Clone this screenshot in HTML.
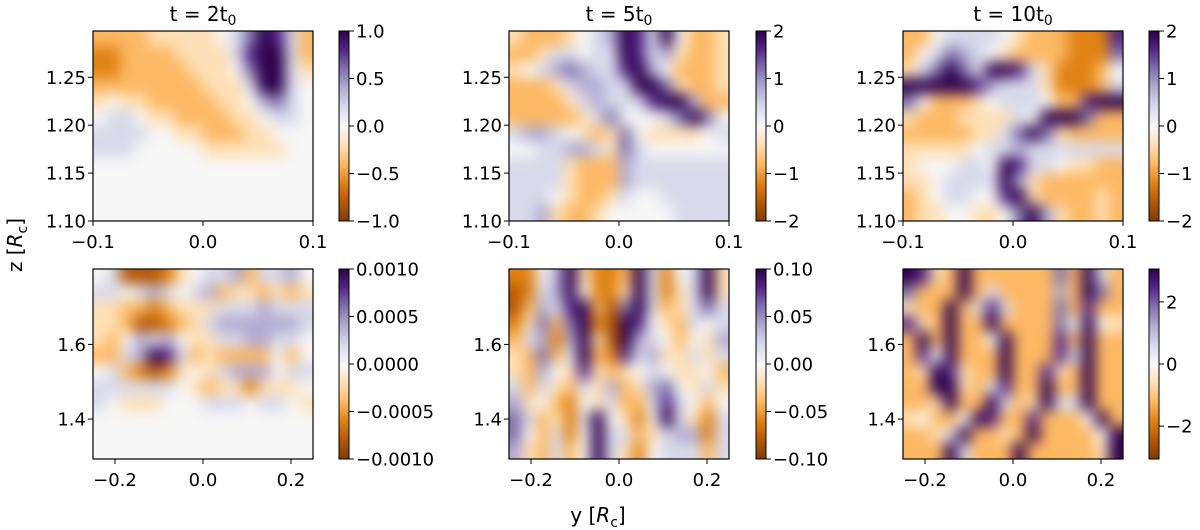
<!DOCTYPE html>
<html><head><meta charset="utf-8">
<style>
html,body{margin:0;padding:0;background:#fff;}
svg{display:block;font-family:"DejaVu Sans","Liberation Sans",sans-serif;}
.hm{filter:blur(7px);}
</style></head>
<body>
<svg id="fig" width="1200" height="530" viewBox="0 0 1200 530" xmlns="http://www.w3.org/2000/svg">
<defs>
<linearGradient id="cmap" x1="0" y1="1" x2="0" y2="0">
<stop offset="0" stop-color="#7f3b08"/><stop offset="0.1" stop-color="#b35806"/><stop offset="0.2" stop-color="#e08214"/><stop offset="0.3" stop-color="#fdb863"/><stop offset="0.4" stop-color="#fee0b6"/><stop offset="0.5" stop-color="#f7f7f7"/><stop offset="0.6" stop-color="#d8daeb"/><stop offset="0.7" stop-color="#b2abd2"/><stop offset="0.8" stop-color="#8073ac"/><stop offset="0.9" stop-color="#542788"/><stop offset="1" stop-color="#2d004b"/>
</linearGradient>
</defs>
<text transform="translate(22,245) rotate(-90)" text-anchor="middle" font-size="20">z [<tspan font-style="italic">R</tspan><tspan font-size="14" dy="5">c</tspan><tspan dy="-5">]</tspan></text>
<text x="598" y="522" text-anchor="middle" font-size="20">y [<tspan font-style="italic">R</tspan><tspan font-size="14" dy="5">c</tspan><tspan dy="-5">]</tspan></text>
</svg>
<script>
// Colormap (PuOr_r) anchor colours for levels -5..5
const cmapColors = ["#7f3b08","#b35806","#e08214","#fdb863","#fee0b6","#f7f7f7","#d8daeb","#b2abd2","#8073ac","#542788","#2d004b"];

const gridTop2 = [
[-2,-2,-2,-2,-1,-1,-1,-1,-1,0,1,3,5,4,1,-2],
[-3,-3,-2,-2,-2,-2,-1,-1,-1,-1,1,4,5,5,1,-2],
[-3,-3,-2,-2,-2,-2,-2,-1,-1,-1,0,3,5,5,1,-1],
[-2,-2,-2,-2,-2,-2,-2,-2,-1,-1,-1,1,5,5,1,0],
[-1,0,-1,-1,-2,-2,-2,-2,-2,-1,-1,0,2,3,1,0],
[0,1,1,0,-1,-1,-2,-2,-2,-2,-1,-1,0,1,1,0],
[1,1,1,1,0,0,-1,-1,-2,-2,-2,-1,-1,0,0,0],
[1,1,1,0,0,0,0,0,-1,-1,-1,-1,-1,-1,0,0],
[0,0,0,0,0,0,0,0,0,0,0,0,0,0,0,0],
[0,0,0,0,0,0,0,0,0,0,0,0,0,0,0,0],
[0,0,0,0,0,0,0,0,0,0,0,0,0,0,0,0],
[0,0,0,0,0,0,0,0,0,0,0,0,0,0,0,0]];
const gridTop5 = [
[-1,-2,-2,-2,-1,0,1,2,5,4,1,5,0,-2,-2,-1],
[-2,-2,-1,1,1,0,1,1,5,4,1,2,-1,-2,-2,-1],
[-1,0,1,2,3,2,1,1,4,5,2,0,-2,-2,-2,-1],
[-2,-2,-2,-1,1,2,2,1,1,5,5,3,-1,-2,-2,-1],
[-2,-2,-2,-2,-1,1,2,1,1,1,4,5,5,2,-2,-2],
[-2,-2,-2,-2,-2,-1,1,3,0,0,0,1,3,5,3,0],
[1,2,2,1,0,-1,-2,-1,3,0,-1,-1,-1,-1,0,1],
[0,0,1,1,2,2,1,-1,3,1,0,0,0,0,0,0],
[1,1,1,1,-1,-2,-2,-2,2,1,1,1,1,1,1,1],
[1,1,1,1,-1,-2,-2,-2,2,1,1,1,1,1,1,1],
[1,1,1,0,-1,-2,-2,-1,1,0,0,1,1,1,1,1],
[1,1,2,-1,-2,-2,-1,0,0,0,0,0,1,1,1,1]];
const gridTop10 = [
[-2,-2,0,1,1,1,1,0,-1,-2,-2,-2,-3,-3,-3,4],
[-2,0,1,3,2,1,0,-1,-2,-2,-2,-2,-3,-3,-3,3],
[-1,1,3,5,3,1,5,5,4,1,-1,-3,-3,-3,-2,0],
[5,5,5,5,5,4,2,1,1,1,-1,-3,-3,-3,-2,1],
[3,0,-2,-2,-2,-1,0,1,1,1,0,-2,-2,4,5,5],
[-1,-2,-2,-2,-1,-1,-1,-1,1,0,5,5,5,3,-2,-2],
[-2,-2,-2,-2,-2,-1,-1,1,3,5,3,-1,-2,-2,-2,-2],
[-1,-1,-1,-1,-1,0,1,1,2,1,1,1,1,1,1,1],
[-1,0,0,0,1,1,0,5,4,1,1,0,-1,-1,-2,-2],
[-1,-1,0,1,1,1,1,5,2,-1,-2,-2,-2,-2,-2,-2],
[-2,-1,0,1,1,0,0,4,5,-1,-2,-2,-2,-2,-1,-2],
[-2,-1,-1,0,0,-1,-1,0,3,5,2,-1,-2,-2,-1,-2]];
const gridBot2 = [
[0,1,-4,-4,-4,-3,-1,0,1,1,2,-2,1,1,2,0],
[1,1,0,1,2,1,0,1,2,-2,-1,-1,-2,-1,-2,-1],
[-1,-1,-2,-2,-3,-2,-1,-1,-1,1,1,1,2,1,1,1],
[-1,-1,-2,-4,-4,-3,-2,-1,1,2,2,2,2,2,2,1],
[-1,-2,0,2,1,2,0,-1,-1,1,1,2,2,1,1,0],
[-2,-2,1,2,5,4,1,-2,-1,-2,-2,-2,-2,0,-2,0],
[0,1,-2,-3,-4,-3,-1,0,-1,1,2,2,2,0,1,1],
[1,1,1,1,1,1,0,-1,-2,-1,-1,-3,-1,-1,-1,0],
[1,0,-1,-1,-1,0,0,0,1,1,1,0,1,1,0,-1],
[0,0,0,0,0,0,0,0,0,0,0,0,0,0,0,0],
[0,0,0,0,0,0,0,0,0,0,0,0,0,0,0,0],
[0,0,0,0,0,0,0,0,0,0,0,0,0,0,0,0]];
const gridBot5 = [
[-3,-3,0,2,5,-1,-3,-3,-2,5,1,-3,0,1,5,-1],
[-4,-3,1,2,5,0,-3,-3,-1,5,1,-3,-1,1,5,-1],
[-4,-2,2,1,4,5,-2,-4,3,5,1,-2,-1,1,3,1],
[-3,-1,3,-2,3,5,-3,-4,5,4,0,-1,-2,1,0,1],
[-2,1,2,-3,2,5,-1,-4,5,2,1,0,-2,0,-1,2],
[-1,-2,3,-2,1,5,-2,-3,4,1,2,-1,-1,1,-1,1],
[-1,-2,2,0,-1,4,-1,-2,-1,0,1,0,-1,-1,0,-2],
[1,-2,1,-1,-2,1,-1,2,-2,-1,2,3,0,-1,1,-1],
[2,-1,0,-2,-3,0,-1,1,-2,-2,1,4,1,0,-2,0],
[3,1,-2,-1,-3,1,5,0,-1,-3,0,5,1,-1,-3,1],
[3,0,-2,1,-3,0,5,1,1,-2,-1,1,2,2,-3,1],
[2,-1,-2,1,-2,0,5,1,-1,-3,0,1,1,1,-2,1]];
const gridBot10 = [
[5,4,-1,-2,5,-2,-2,-2,-2,-2,-2,3,-2,5,1,-2],
[3,-2,-2,-2,5,-2,1,-2,-2,-2,-2,2,-2,5,3,-2],
[-1,-2,-2,5,-2,1,4,1,-2,-2,-2,3,-2,4,-2,-2],
[4,-1,-2,5,-2,-2,5,-2,-2,-2,-2,3,0,5,0,-1],
[-2,5,-2,5,-2,-2,0,5,-2,-2,-2,4,-2,5,-2,-2],
[-2,4,0,5,-2,-2,-2,5,-2,-2,-2,4,1,5,-2,-2],
[-2,-1,5,4,-1,-2,-2,5,-2,-2,4,-1,-2,5,-2,-2],
[-2,-2,5,5,-1,-2,1,4,-2,-2,5,-2,-2,5,-2,-2],
[-2,-2,-1,5,-2,-2,5,1,-2,-1,5,1,1,5,-2,-2],
[-1,0,-2,-2,0,5,4,-2,-2,4,-2,-2,-2,0,5,-2],
[-2,-2,-1,1,5,-2,-2,-1,-2,5,-2,-2,-2,-2,0,5],
[-2,-2,-2,5,1,-2,-2,-2,5,-2,-2,-2,-2,-2,-1,5]];

const xTicksTop = [-0.1, 0.0, 0.1];
const xTickLabelsTop = ["\u22120.1","0.0","0.1"];
const yTicksTop = [1.10, 1.15, 1.20, 1.25];
const yTickLabelsTop = ["1.10","1.15","1.20","1.25"];
const xTicksBot = [-0.2, 0.0, 0.2];
const xTickLabelsBot = ["\u22120.2","0.0","0.2"];
const yTicksBot = [1.4, 1.6];
const yTickLabelsBot = ["1.4","1.6"];

const cbTicks1 = [1.0,0.5,0.0,-0.5,-1.0];
const cbLabels1 = ["1.0","0.5","0.0","\u22120.5","\u22121.0"];
const cbTicks2 = [2,1,0,-1,-2];
const cbLabels2 = ["2","1","0","\u22121","\u22122"];
const cbTicks4 = [0.001,0.0005,0,-0.0005,-0.001];
const cbLabels4 = ["0.0010","0.0005","0.0000","\u22120.0005","\u22120.0010"];
const cbTicks5 = [0.1,0.05,0,-0.05,-0.1];
const cbLabels5 = ["0.10","0.05","0.00","\u22120.05","\u22120.10"];
const cbTicks6 = [2,0,-2];
const cbLabels6 = ["2","0","\u22122"];

const titles = ["2","5","10"];

const NS = "http://www.w3.org/2000/svg";
const fig = document.getElementById("fig");
function mk(tag, attrs, parent){const e=document.createElementNS(NS,tag);for(const k in attrs)e.setAttribute(k,attrs[k]);(parent||fig).appendChild(e);return e;}
function hex(h){return [parseInt(h.slice(1,3),16),parseInt(h.slice(3,5),16),parseInt(h.slice(5,7),16)];}
function colorOf(v){
  let t=Math.max(-5,Math.min(5,v))+5; let i=Math.min(9,Math.floor(t)); let f=t-i;
  const a=hex(cmapColors[i]), b=hex(cmapColors[i+1]);
  return "rgb("+a.map((c,k)=>Math.round(c+(b[k]-c)*f)).join(",")+")";
}

const panels = [
 {name:"top-left",x:93,y:31,grid:gridTop2,xr:[-0.1,0.1],yr:[1.10,1.2983],xt:xTicksTop,xl:xTickLabelsTop,yt:yTicksTop,yl:yTickLabelsTop,cbx:339,cbr:1.0,cbt:cbTicks1,cbl:cbLabels1,title:titles[0]},
 {name:"top-middle",x:509,y:31,grid:gridTop5,xr:[-0.1,0.1],yr:[1.10,1.2983],xt:xTicksTop,xl:xTickLabelsTop,yt:yTicksTop,yl:yTickLabelsTop,cbx:756,cbr:2,cbt:cbTicks2,cbl:cbLabels2,title:titles[1]},
 {name:"top-right",x:903,y:31,grid:gridTop10,xr:[-0.1,0.1],yr:[1.10,1.2983],xt:xTicksTop,xl:xTickLabelsTop,yt:yTicksTop,yl:yTickLabelsTop,cbx:1149,cbr:2,cbt:cbTicks2,cbl:cbLabels2,title:titles[2]},
 {name:"bottom-left",x:93,y:269,grid:gridBot2,xr:[-0.25,0.25],yr:[1.293,1.802],xt:xTicksBot,xl:xTickLabelsBot,yt:yTicksBot,yl:yTickLabelsBot,cbx:339,cbr:0.001,cbt:cbTicks4,cbl:cbLabels4},
 {name:"bottom-middle",x:509,y:269,grid:gridBot5,xr:[-0.25,0.25],yr:[1.293,1.802],xt:xTicksBot,xl:xTickLabelsBot,yt:yTicksBot,yl:yTickLabelsBot,cbx:756,cbr:0.1,cbt:cbTicks5,cbl:cbLabels5},
 {name:"bottom-right",x:903,y:269,grid:gridBot10,xr:[-0.25,0.25],yr:[1.293,1.802],xt:xTicksBot,xl:xTickLabelsBot,yt:yTicksBot,yl:yTickLabelsBot,cbx:1149,cbr:3.06,cbt:cbTicks6,cbl:cbLabels6}
];
const W=220,H=190,PAD=22;

panels.forEach(p=>{
  const g=mk("g",{});
  
  
  const inner=mk("svg",{x:p.x,y:p.y,width:W,height:H,overflow:"hidden"},g);
  const hg=mk("g",{"class":"hm"},inner);
  const rows=p.grid.length, cols=p.grid[0].length;
  const cw=W/cols, ch=H/rows;
  const colX=c=>c*cw, rowY=r=>r*ch;
  p.grid.forEach((row,r)=>row.forEach((v,c)=>{
    let x0=colX(c)-0.5, x1=colX(c+1)+0.5, y0=rowY(r)-0.5, y1=rowY(r+1)+0.5;
    if(c===0)x0-=PAD; if(c===cols-1)x1+=PAD; if(r===0)y0-=PAD; if(r===rows-1)y1+=PAD;
    const rc=mk("rect",{x:x0,y:y0,width:x1-x0,height:y1-y0,fill:colorOf(v)},hg);
    
    
  }));
  const fr=mk("rect",{x:p.x,y:p.y,width:W,height:H,fill:"none",stroke:"#000","stroke-width":1.2},g);
  
  
  const sx=v=>p.x+(v-p.xr[0])/(p.xr[1]-p.xr[0])*W;
  const sy=v=>p.y+H-(v-p.yr[0])/(p.yr[1]-p.yr[0])*H;
  p.xt.forEach((t,i)=>{
    const X=sx(t);
    mk("line",{x1:X,x2:X,y1:p.y+H,y2:p.y+H+5,stroke:"#000","stroke-width":1},g);
    const tx=mk("text",{x:X,y:p.y+H+27,"text-anchor":"middle","font-size":18},g);
    tx.textContent=p.xl[i];
    
    
  });
  p.yt.forEach((t,i)=>{
    const Y=sy(t);
    mk("line",{x1:p.x-5,x2:p.x,y1:Y,y2:Y,stroke:"#000","stroke-width":1},g);
    const tx=mk("text",{x:p.x-7,y:Y+6.5,"text-anchor":"end","font-size":18},g);
    tx.textContent=p.yl[i];
    
    
  });
  const cb=mk("rect",{x:p.cbx,y:p.y,width:10,height:H,fill:"url(#cmap)",stroke:"#000","stroke-width":1},g);
  
  
  const cy=v=>p.y+H/2-(v/p.cbr)*(H/2);
  p.cbt.forEach((t,i)=>{
    const Y=cy(t);
    mk("line",{x1:p.cbx+10,x2:p.cbx+15,y1:Y,y2:Y,stroke:"#000","stroke-width":1},g);
    const tx=mk("text",{x:p.cbx+17,y:Y+6.5,"font-size":18},g);
    tx.textContent=p.cbl[i];
    
    
  });
  if(p.title){
    const tt=mk("text",{x:p.x+W/2,y:21,"text-anchor":"middle","font-size":20},g);
    
    
    tt.appendChild(document.createTextNode("t = "+p.title+"t"));
    const sub=mk("tspan",{"font-size":14,dy:4},tt); sub.textContent="0";
  }
});
</script>
</body></html>
